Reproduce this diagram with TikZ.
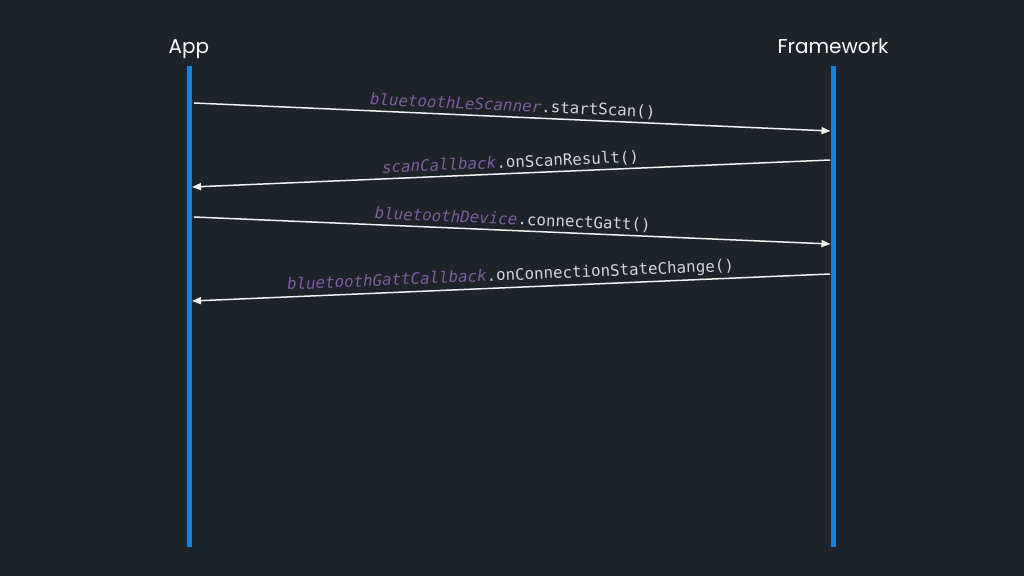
\documentclass[tikz,border=0pt]{standalone}
\usepackage{fontspec}
\setmainfont{Poppins}
\setmonofont{DejaVu Sans Mono}
\usetikzlibrary{arrows.meta}
\definecolor{bg}{HTML}{1E2229}
\definecolor{lifeblue}{HTML}{1783DC}
\definecolor{msgpurple}{HTML}{7E5E9E}
\definecolor{msggray}{HTML}{D2D4D8}
\definecolor{msgline}{HTML}{F2F2F2}
\newcommand{\obj}[1]{{\color{msgpurple}\itshape #1}}
\tikzset{
  lifeline/.style={draw=lifeblue,line width=5pt},
  actor/.style={text=white,font=\fontsize{20}{23}\selectfont,inner sep=0pt,anchor=base},
  msg/.style={draw=msgline,line width=1.5pt,-{Triangle[length=9pt,width=7pt]}},
  msglabel/.style={font=\ttfamily\fontsize{15.8}{18}\selectfont,text=msggray,inner sep=1pt,above,sloped,midway,yshift=2pt}
}
\begin{document}
\begin{tikzpicture}[x=1pt,y=-1pt]
\fill[bg] (0,0) rectangle (1024,576);
\useasboundingbox (0,0) rectangle (1024,576);
% actors
\node[actor] (app) at (189,53) {App};
\node[actor] (fw) at (833,53) {Framework};
% lifelines
\coordinate (appTop) at (189,66);
\coordinate (appBot) at (189,547);
\coordinate (fwTop) at (833,66);
\coordinate (fwBot) at (833,547);
\draw[lifeline] (appTop) -- (appBot);
\draw[lifeline] (fwTop) -- (fwBot);
% message endpoints
\coordinate (a1) at (194,103); \coordinate (f1) at (830.5,131);
\coordinate (f2) at (830,160); \coordinate (a2) at (192,187);
\coordinate (a3) at (194,217); \coordinate (f3) at (830.5,244);
\coordinate (f4) at (830,274); \coordinate (a4) at (192,301);
% messages
\draw[msg] (a1) -- node[msglabel] {\obj{bluetoothLeScanner}.startScan()} (f1);
\draw[msg] (f2) -- node[msglabel] {\obj{scanCallback}.onScanResult()} (a2);
\draw[msg] (a3) -- node[msglabel] {\obj{bluetoothDevice}.connectGatt()} (f3);
\draw[msg] (f4) -- node[msglabel] {\obj{bluetoothGattCallback}.onConnectionStateChange()} (a4);
\end{tikzpicture}
\end{document}
